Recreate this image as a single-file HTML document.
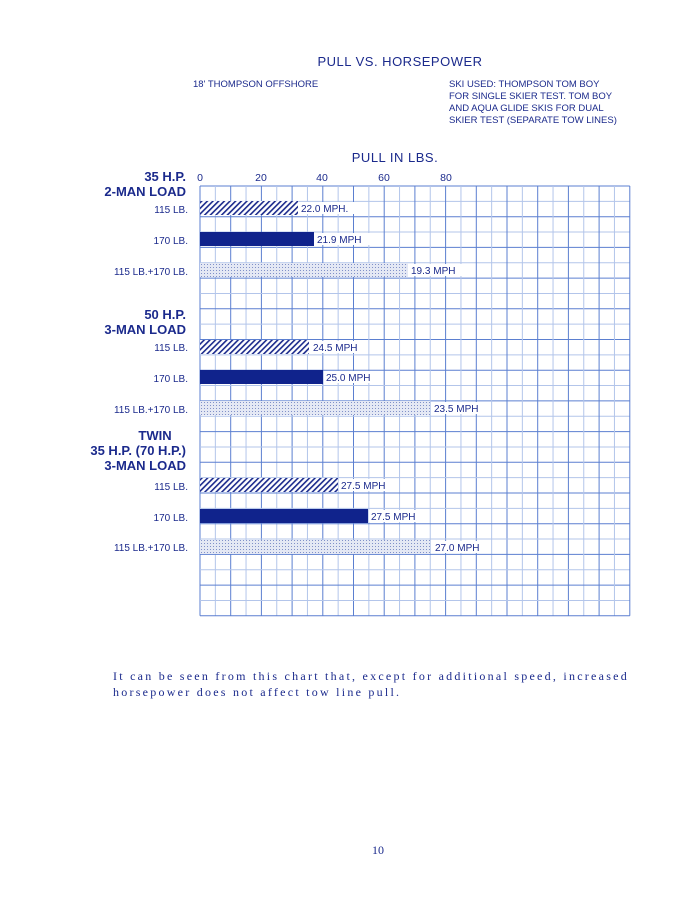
<!DOCTYPE html>
<html><head><meta charset="utf-8"><style>
body{margin:0;background:#fff;}
svg{display:block}
text{font-family:"Liberation Sans",sans-serif;fill:#1b2a8c}
</style></head><body>
<svg width="700" height="905" viewBox="0 0 700 905" xmlns="http://www.w3.org/2000/svg">
<defs>
<pattern id="hatch" width="4" height="4" patternUnits="userSpaceOnUse" patternTransform="rotate(45)">
<rect width="4" height="4" fill="#fff"/><rect width="1.6" height="4" fill="#1b2a8c"/></pattern>
<pattern id="dots" width="3" height="3" patternUnits="userSpaceOnUse">
<rect width="3" height="3" fill="#e4e8f4"/><rect width="1" height="1" fill="#8090c8"/></pattern>
</defs>
<text x="400" y="66" font-size="13" text-anchor="middle" style="letter-spacing:0.5px">PULL VS. HORSEPOWER</text>
<text x="193" y="87" font-size="9.5">18' THOMPSON OFFSHORE</text>
<text x="449" y="87" font-size="9.5">SKI USED: THOMPSON TOM BOY</text>
<text x="449" y="99" font-size="9.5">FOR SINGLE SKIER TEST. TOM BOY</text>
<text x="449" y="111" font-size="9.5">AND AQUA GLIDE SKIS FOR DUAL</text>
<text x="449" y="123" font-size="9.5">SKIER TEST (SEPARATE TOW LINES)</text>
<text x="395" y="162" font-size="13" text-anchor="middle" style="letter-spacing:0.5px">PULL IN LBS.</text>
<g font-size="10.5" text-anchor="middle">
<text x="200" y="181">0</text><text x="261" y="181">20</text><text x="322" y="181">40</text><text x="384" y="181">60</text><text x="446" y="181">80</text>
</g>
<g font-size="13" font-weight="bold" text-anchor="end">
<text x="186" y="181">35 H.P.</text><text x="186" y="196">2-MAN LOAD</text>
<text x="186" y="319">50 H.P.</text><text x="186" y="334">3-MAN LOAD</text>
<text x="155" y="440" text-anchor="middle">TWIN</text>
<text x="186" y="455">35 H.P. (70 H.P.)</text><text x="186" y="470">3-MAN LOAD</text>
</g>
<g font-size="10" text-anchor="end">
<text x="188" y="213">115 LB.</text><text x="188" y="244">170 LB.</text><text x="188" y="275">115 LB.+170 LB.</text>
<text x="188" y="351">115 LB.</text><text x="188" y="382">170 LB.</text><text x="188" y="413">115 LB.+170 LB.</text>
<text x="188" y="490">115 LB.</text><text x="188" y="521">170 LB.</text><text x="188" y="551">115 LB.+170 LB.</text>
</g>
<g id="lines"></g>
<rect x="200" y="201" width="98" height="14" fill="url(#hatch)"/>
<rect x="200" y="232" width="114" height="14" fill="#10238c"/>
<rect x="200" y="263" width="208" height="14" fill="url(#dots)"/>
<rect x="200" y="340" width="109" height="14" fill="url(#hatch)"/>
<rect x="200" y="370" width="123" height="14" fill="#10238c"/>
<rect x="200" y="401" width="230" height="14" fill="url(#dots)"/>
<rect x="200" y="478" width="138" height="14" fill="url(#hatch)"/>
<rect x="200" y="509" width="168" height="14" fill="#10238c"/>
<rect x="200" y="540" width="230" height="14" fill="url(#dots)"/>
<g font-size="10">
<rect x="299" y="202" width="62" height="12" fill="#fff"/><text x="301" y="212">22.0 MPH.</text>
<rect x="315" y="233" width="55" height="12" fill="#fff"/><text x="317" y="243">21.9 MPH</text>
<rect x="409" y="264" width="55" height="12" fill="#fff"/><text x="411" y="274">19.3 MPH</text>
<rect x="310" y="341" width="58" height="12" fill="#fff"/><text x="313" y="351">24.5 MPH</text>
<rect x="324" y="371" width="56" height="12" fill="#fff"/><text x="326" y="381">25.0 MPH</text>
<rect x="431" y="402" width="58" height="12" fill="#fff"/><text x="434" y="412">23.5 MPH</text>
<rect x="339" y="479" width="58" height="12" fill="#fff"/><text x="341" y="489">27.5 MPH</text>
<rect x="369" y="510" width="58" height="12" fill="#fff"/><text x="371" y="520">27.5 MPH</text>
<rect x="431" y="541" width="58" height="12" fill="#fff"/><text x="435" y="551">27.0 MPH</text>
</g>
<g font-size="12">
<text x="113" y="680" style="font-family:'Liberation Serif',serif;letter-spacing:2.25px">It can be seen from this chart that, except for additional speed, increased</text>
<text x="113" y="696" style="font-family:'Liberation Serif',serif;letter-spacing:2.25px">horsepower does not affect tow line pull.</text>
<text x="378" y="854" text-anchor="middle" style="font-family:'Liberation Serif',serif">10</text>
</g>
</svg>
<script>
var ns="http://www.w3.org/2000/svg",g=document.getElementById('lines');
var x0=200,y0=186,s=15.35,n=28;
for(var i=0;i<=n;i++){
 var x=x0+s*i,y=y0+s*i;
 var c=(i%2==0||i==n)?"#5b7fd0":"#b3c5ea";
 var v=document.createElementNS(ns,'line');v.setAttribute('x1',x);v.setAttribute('x2',x);v.setAttribute('y1',y0);v.setAttribute('y2',y0+s*n);v.setAttribute('stroke',c);v.setAttribute('stroke-width',1);g.appendChild(v);
 var h=document.createElementNS(ns,'line');h.setAttribute('y1',y);h.setAttribute('y2',y);h.setAttribute('x1',x0);h.setAttribute('x2',x0+s*n);h.setAttribute('stroke',c);h.setAttribute('stroke-width',1);g.appendChild(h);
}
</script>
</body></html>
